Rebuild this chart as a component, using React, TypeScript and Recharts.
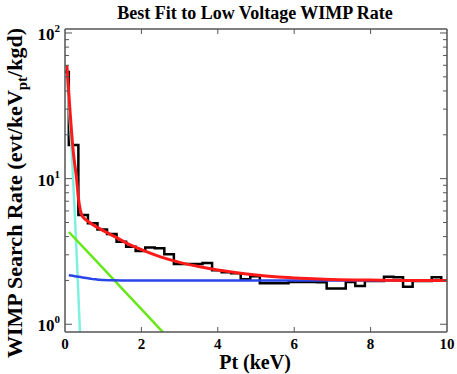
import { ComposedChart, Line, XAxis, YAxis } from 'recharts';

// histogram bins (keV lower edge) and measured rate per bin
const binEdges = [
  0, 0.1, 0.35, 0.6, 0.85, 1.1, 1.35, 1.6, 1.85, 2.1, 2.35, 2.6, 2.85, 3.1, 3.35, 3.6, 3.85, 4.1, 4.35, 4.6,
  4.85, 5.1, 5.35, 5.6, 5.85, 6.1, 6.35, 6.6, 6.85, 7.1, 7.35, 7.6, 7.85, 8.1, 8.35, 8.6, 8.85, 9.1, 9.35, 9.6,
  9.85, 10,
];
const binRates = [
  54, 17.0, 5.62, 4.93, 4.48, 4.16, 3.68, 3.4, 3.19, 3.37, 3.33, 3.03, 2.59, 2.59, 2.59, 2.63, 2.35, 2.28, 2.24, 2.04,
  2.14, 1.91, 1.91, 1.91, 1.95, 1.95, 1.95, 1.94, 1.76, 1.76, 1.95, 1.83, 1.98, 1.98, 2.12, 2.1, 1.81, 1.98, 1.98, 2.1,
  2.0, 2.0,
];

// total fit
const fitX = [0.05, 0.1, 0.15, 0.2, 0.25, 0.3, 0.35, 0.4, 0.45, 0.5, 0.6, 0.8, 1.0, 1.3, 1.6, 2.0, 2.5, 3.0, 3.5, 4.0, 4.5, 5.0, 5.5, 6.0, 6.5, 7.0, 8.0, 9.0, 10];
const fitY = [60, 38, 25, 17, 12.8, 10.2, 7.4, 6.1, 5.55, 5.35, 5.1, 4.7, 4.4, 4.0, 3.62, 3.25, 2.9, 2.66, 2.49, 2.36, 2.26, 2.18, 2.12, 2.08, 2.05, 2.03, 2.01, 2.0, 2.0];

// components
const noiseX = [0.05, 0.1, 0.15, 0.2, 0.25, 0.3, 0.35, 0.4];
const noiseY = [50, 32, 20, 11.5, 6.2, 3.2, 1.6, 0.78];
const expoX = [0.1, 0.5, 1.0, 1.5, 2.0, 2.5, 2.8];
const expoY = [4.3, 3.33, 2.42, 1.75, 1.27, 0.92, 0.76];
const flatX = [0.1, 0.2, 0.3, 0.4, 0.5, 0.6, 0.7, 0.8, 0.9, 1.0, 1.2, 1.5, 3.0, 10];
const flatY = [2.17, 2.15, 2.13, 2.11, 2.09, 2.07, 2.05, 2.035, 2.02, 2.01, 2.005, 2.0, 2.0, 2.0];

const xTicks = [0, 2, 4, 6, 8, 10];
const yTicks = [1, 2, 3, 4, 5, 6, 7, 8, 9, 10, 20, 30, 40, 50, 60, 70, 80, 90, 100];

const toPoints = (xs: number[], ys: number[]) => xs.map((x, i) => ({ x, y: ys[i] }));

const histData = toPoints(binEdges, binRates);
const fitData = toPoints(fitX, fitY);
const noiseData = toPoints(noiseX, noiseY);
const expoData = toPoints(expoX, expoY);
const flatData = toPoints(flatX, flatY);

const W = 457;
const H = 374;
const PLOT_L = 65;
const PLOT_R = 447;
const PLOT_T = 29;
const PLOT_B = 332;
const AXIS = '#555';
const FONT = "'Liberation Serif', 'Times New Roman', serif";

const isDecade = (v: number) => Math.abs(Math.log10(v) - Math.round(Math.log10(v))) < 1e-6;

const LeftTick = (props: any) => {
  const { y, payload } = props;
  const v = payload.value;
  const major = isDecade(v);
  return (
    <g>
      <line x1={PLOT_L} x2={PLOT_L + (major ? 7 : 4)} y1={y} y2={y} stroke={AXIS} strokeWidth={1} />
      {major && (
        <text x={PLOT_L - 5} y={y + 7} textAnchor="end" fontFamily={FONT} fontWeight="bold" fontSize={17} fill="#000">
          10<tspan dy={-8} fontSize={11}>{Math.round(Math.log10(v))}</tspan>
        </text>
      )}
    </g>
  );
};

const RightTick = (props: any) => {
  const { y, payload } = props;
  const major = isDecade(payload.value);
  return <line x1={PLOT_R - (major ? 7 : 4)} x2={PLOT_R} y1={y} y2={y} stroke={AXIS} strokeWidth={1} />;
};

const BottomTick = (props: any) => {
  const { x, payload } = props;
  const v = payload.value;
  return (
    <g>
      {v > 0 && v < 10 && <line x1={x} x2={x} y1={PLOT_B} y2={PLOT_B - 5} stroke={AXIS} strokeWidth={1} />}
      <text x={x} y={349} textAnchor="middle" fontFamily={FONT} fontWeight="bold" fontSize={15} fill="#000">
        {v}
      </text>
    </g>
  );
};

const TopTick = (props: any) => {
  const { x, payload } = props;
  const v = payload.value;
  if (v <= 0 || v >= 10) return <g />;
  return <line x1={x} x2={x} y1={PLOT_T} y2={PLOT_T + 5} stroke={AXIS} strokeWidth={1} />;
};

const TitleLabel = () => (
  <text x={255} y={19} textAnchor="middle" fontFamily={FONT} fontWeight="bold" fontSize={18} fill="#000">
    Best Fit to Low Voltage WIMP Rate
  </text>
);

const XTitle = () => (
  <text x={255} y={369} textAnchor="middle" fontFamily={FONT} fontWeight="bold" fontSize={20} fill="#000">
    Pt (keV)
  </text>
);

const YTitle = () => (
  <text
    x={0}
    y={0}
    transform="translate(22,193) rotate(-90)"
    textAnchor="middle"
    fontFamily={FONT}
    fontWeight="bold"
    fontSize={22}
    fill="#000"
  >
    WIMP Search Rate (evt/keV<tspan dy={5} fontSize={15}>pt</tspan>
    <tspan dy={-5}>/kgd)</tspan>
  </text>
);

export default function App() {
  return (
    <div style={{ position: 'absolute', left: 0, top: 0, width: W, height: H, background: '#fff' }}>
      <ComposedChart width={W} height={H} margin={{ top: 0, right: 0, bottom: 0, left: 0 }}>
        <XAxis
          type="number"
          dataKey="x"
          domain={[0, 10]}
          ticks={xTicks}
          interval={0}
          allowDataOverflow
          height={H - PLOT_B}
          tickLine={false}
          tick={BottomTick}
          axisLine={{ stroke: AXIS, strokeWidth: 1.5 }}
          label={<XTitle />}
        />
        <XAxis
          xAxisId="top"
          orientation="top"
          type="number"
          dataKey="x"
          domain={[0, 10]}
          ticks={xTicks}
          interval={0}
          allowDataOverflow
          height={PLOT_T}
          tickLine={false}
          tick={TopTick}
          axisLine={{ stroke: AXIS, strokeWidth: 1.5 }}
          label={<TitleLabel />}
        />
        <YAxis
          type="number"
          scale="log"
          domain={[0.885, 106.5]}
          ticks={yTicks}
          interval={0}
          allowDataOverflow
          width={PLOT_L}
          tickLine={false}
          tick={LeftTick}
          axisLine={{ stroke: AXIS, strokeWidth: 1.5 }}
          label={<YTitle />}
        />
        <YAxis
          yAxisId="right"
          orientation="right"
          type="number"
          scale="log"
          domain={[0.885, 106.5]}
          ticks={yTicks}
          interval={0}
          allowDataOverflow
          width={W - PLOT_R}
          tickLine={false}
          tick={RightTick}
          axisLine={{ stroke: AXIS, strokeWidth: 1.5 }}
        />
        <Line data={histData} dataKey="y" type="stepAfter" stroke="#000" strokeWidth={2.5} dot={false} isAnimationActive={false} />
        <Line data={noiseData} dataKey="y" type="monotone" stroke="#7ff0e0" strokeWidth={2.5} dot={false} isAnimationActive={false} />
        <Line data={expoData} dataKey="y" type="linear" stroke="#66e81a" strokeWidth={2.5} dot={false} isAnimationActive={false} />
        <Line data={flatData} dataKey="y" type="monotone" stroke="#2a45e8" strokeWidth={2.5} dot={false} isAnimationActive={false} />
        <Line data={fitData} dataKey="y" type="monotone" stroke="#ff1a1a" strokeWidth={3} dot={false} isAnimationActive={false} />
      </ComposedChart>
    </div>
  );
}
